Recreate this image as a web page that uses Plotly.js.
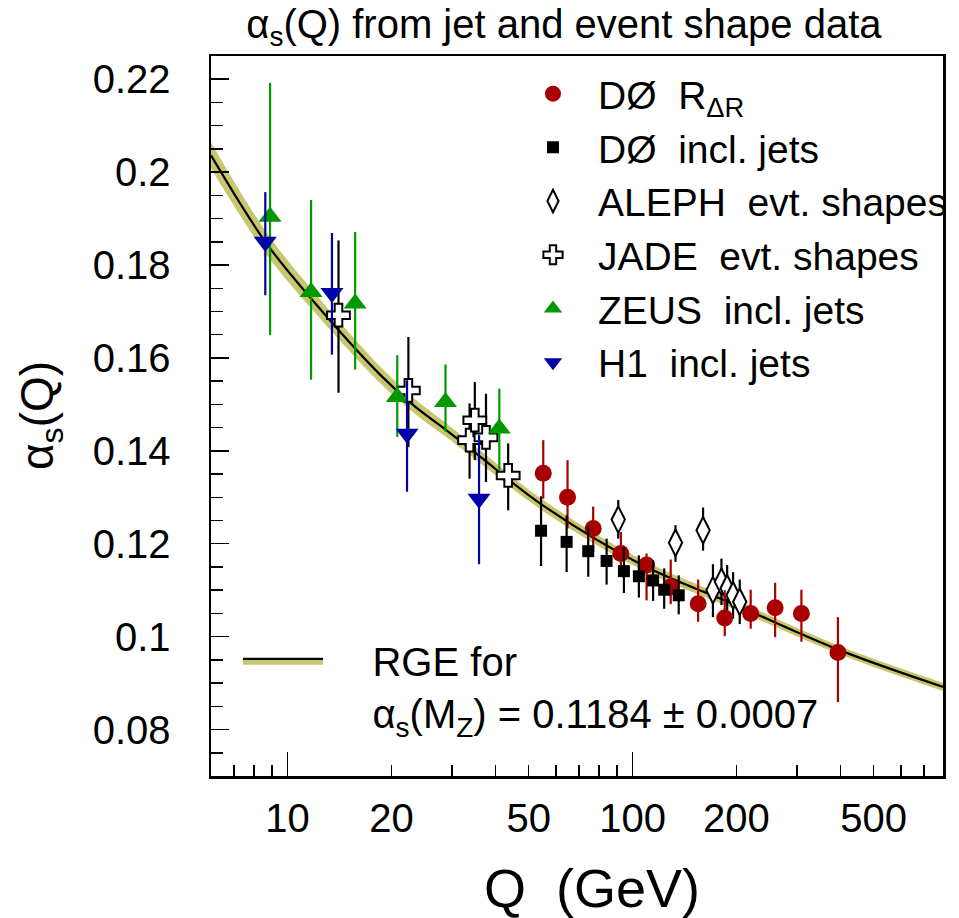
<!DOCTYPE html>
<html>
<head>
<meta charset="utf-8">
<script src="https://cdn.plot.ly/plotly-3.0.1.min.js"></script>
<style>
  html, body { margin: 0; padding: 0; background: #ffffff; }
  #chart { width: 959px; height: 918px; }
</style>
</head>
<body>
<div id="chart"></div>
<script>
// ---------- data ----------
// D0 R_deltaR (red circles)
const d0rQ  = [55.1, 64.8, 76.9, 92.5, 109.8, 129, 154.9, 185, 220, 259, 308.6, 393.8];
const d0rA  = [0.1352, 0.1300, 0.1233, 0.1179, 0.1154, 0.1107, 0.1071, 0.1040, 0.1050, 0.1062, 0.1050, 0.0966];
const d0rUp = [0.0071, 0.0080, 0.0047, 0.0046, 0.0025, 0.0059, 0.0052, 0.0060, 0.0051, 0.0054, 0.0051, 0.0076];
const d0rDn = [0.0055, 0.0067, 0.0051, 0.0036, 0.0076, 0.0037, 0.0039, 0.0039, 0.0033, 0.0063, 0.0061, 0.0107];

// D0 inclusive jets (black squares)
const d0jQ  = [54.3, 64.4, 74.4, 84.1, 94.4, 104.3, 114.7, 123.5, 136.1];
const d0jA  = [0.1228, 0.1204, 0.1184, 0.1163, 0.1141, 0.1130, 0.1121, 0.1101, 0.1089];
const d0jUp = [0.0074, 0.0057, 0.0054, 0.0048, 0.0052, 0.0045, 0.0043, 0.0046, 0.0043];
const d0jDn = [0.0076, 0.0065, 0.0055, 0.0051, 0.0047, 0.0046, 0.0044, 0.0041, 0.0041];

// ALEPH event shapes (open diamonds)
const alephQ  = [90.9, 133.2, 160.1, 171, 181, 188, 195.6, 204.5];
const alephA  = [0.1252, 0.1202, 0.1229, 0.1100, 0.1118, 0.1104, 0.1089, 0.1075];
const alephUp = [0.0042, 0.0038, 0.0049, 0.0056, 0.0050, 0.0050, 0.0050, 0.0048];
const alephDn = [0.0041, 0.0041, 0.0044, 0.0058, 0.0050, 0.0050, 0.0050, 0.0048];

// JADE event shapes (open crosses)
const jadeQ  = [14.05, 22.4, 33.7, 34.9, 37.6, 43.6];
const jadeA  = [0.1692, 0.1530, 0.1423, 0.1466, 0.1429, 0.1347];
const jadeUp = [0.0161, 0.0115, 0.0079, 0.0082, 0.0094, 0.0069];
const jadeDn = [0.0167, 0.0122, 0.0083, 0.0086, 0.0096, 0.0075];

// ZEUS inclusive jets (green up triangles)
const zeusQ  = [8.9, 11.7, 15.7, 20.8, 28.7, 41.1];
const zeusA  = [0.1904, 0.1742, 0.1717, 0.1516, 0.1505, 0.1448];
const zeusUp = [0.0288, 0.0198, 0.0154, 0.0090, 0.0081, 0.0086];
const zeusDn = [0.0255, 0.0189, 0.0142, 0.0086, 0.0064, 0.0090];

// H1 inclusive jets (blue down triangles)
const h1Q  = [8.62, 13.45, 22.2, 35.9];
const h1A  = [0.185, 0.174, 0.1437, 0.1297];
const h1Up = [0.0107, 0.0129, 0.0115, 0.0137];
const h1Dn = [0.0115, 0.0133, 0.0125, 0.0141];

// RGE curve (read along the drawn band) and band half-width
const rgeQ = [6.0, 8.62, 11.7, 18.6, 23.2, 28.9, 36.1, 53.9, 105, 205, 398, 800];
const rgeA = [0.2036, 0.1850, 0.1728, 0.1563, 0.1498, 0.1444, 0.1388, 0.1287, 0.1157, 0.1064, 0.0971, 0.0891];
const rgeE = [0.0028, 0.0024, 0.0021, 0.0018, 0.0016, 0.0015, 0.0014, 0.0012, 0.0011, 0.0010, 0.0009, 0.0009];

// axis ticks
const xLabelVals = [10, 20, 50, 100, 200, 500];
const xLabelText = ['10', '20', '50', '100', '200', '500'];
const xMinorVals = [7, 8, 9, 30, 40, 60, 70, 80, 90, 300, 400, 600, 700];
const xMajorVals = [10, 100];

const seriesNames = [
  'DØ\u00a0\u00a0R<sub>ΔR</sub>',
  'DØ\u00a0\u00a0incl. jets',
  'ALEPH\u00a0\u00a0evt. shapes',
  'JADE\u00a0\u00a0evt. shapes',
  'ZEUS\u00a0\u00a0incl. jets',
  'H1\u00a0\u00a0incl. jets'
];
const bandLabel = '\u00a0\u00a0\u00a0\u00a0RGE for<br>\u00a0\u00a0\u00a0\u00a0α<sub>s</sub>(M<sub>Z</sub>) = 0.1184 ± 0.0007';
const xTitle = 'Q\u00a0\u00a0(GeV)';
const yTitle = 'α<sub>s</sub>(Q)';

// ---------- styling ----------
const FONT = 'Liberation Sans, Arial, Helvetica, sans-serif';
const RED = '#a80000', GREEN = '#009a00', BLUE = '#0000a8', BAND = 'rgb(201,199,110)';

const lower = rgeA.map((v, i) => v - rgeE[i]);
const upper = rgeA.map((v, i) => v + rgeE[i]);

function errs(up, dn, color) {
  return { type: 'data', symmetric: false, array: up, arrayminus: dn,
           color: color, thickness: 2.2, width: 0 };
}

const traces = [
  // band: lower edge, centre line (fills lower->centre), upper edge (fills centre->upper)
  { x: rgeQ, y: lower, xaxis: 'x', yaxis: 'y', mode: 'lines',
    line: { width: 0, color: 'rgba(0,0,0,0)', shape: 'spline' },
    showlegend: false, hoverinfo: 'skip' },
  { x: rgeQ, y: rgeA, xaxis: 'x', yaxis: 'y', mode: 'lines', name: bandLabel,
    fill: 'tonexty', fillcolor: BAND,
    line: { width: 2.2, color: 'black', shape: 'spline' },
    legend: 'legend2', showlegend: true },
  { x: rgeQ, y: upper, xaxis: 'x', yaxis: 'y', mode: 'lines',
    fill: 'tonexty', fillcolor: BAND,
    line: { width: 0, color: 'rgba(0,0,0,0)', shape: 'spline' },
    showlegend: false, hoverinfo: 'skip' },

  { x: alephQ, y: alephA, xaxis: 'x2', yaxis: 'y', mode: 'markers', name: seriesNames[2],
    legendgroup: 'g3', legendrank: 3,
    marker: { symbol: 'diamond-tall', size: 19, color: 'white', line: { color: 'black', width: 2 } },
    error_y: errs(alephUp, alephDn, 'black') },
  { x: jadeQ, y: jadeA, xaxis: 'x2', yaxis: 'y', mode: 'markers', name: seriesNames[3],
    legendgroup: 'g4', legendrank: 4,
    marker: { symbol: 'cross', size: 19, color: 'white', line: { color: 'black', width: 2 } },
    error_y: errs(jadeUp, jadeDn, 'black') },
  { x: zeusQ, y: zeusA, xaxis: 'x2', yaxis: 'y', mode: 'markers', name: seriesNames[4],
    legendgroup: 'g5', legendrank: 5,
    marker: { symbol: 'triangle-up', size: 20, color: GREEN },
    error_y: errs(zeusUp, zeusDn, GREEN) },
  { x: h1Q, y: h1A, xaxis: 'x2', yaxis: 'y', mode: 'markers', name: seriesNames[5],
    legendgroup: 'g6', legendrank: 6,
    marker: { symbol: 'triangle-down', size: 20, color: BLUE },
    error_y: errs(h1Up, h1Dn, BLUE) },
  { x: d0rQ, y: d0rA, xaxis: 'x2', yaxis: 'y', mode: 'markers', name: seriesNames[0],
    legendgroup: 'g1', legendrank: 1,
    marker: { symbol: 'circle', size: 17, color: RED },
    error_y: errs(d0rUp, d0rDn, RED) },
  { x: d0jQ, y: d0jA, xaxis: 'x3', yaxis: 'y', mode: 'markers', name: seriesNames[1],
    legendgroup: 'g2', legendrank: 2,
    marker: { symbol: 'square', size: 12, color: 'black' },
    error_y: errs(d0jUp, d0jDn, 'black') }
];

const xr = [Math.log10(6), Math.log10(794)];

const layout = {
  width: 959, height: 918,
  margin: { l: 211, r: 16, t: 56, b: 142, autoexpand: false },
  paper_bgcolor: '#ffffff', plot_bgcolor: '#ffffff',
  font: { family: FONT, color: 'black', size: 37 },
  showlegend: true,
  title: {
    text: 'α<sub>s</sub>(Q) from jet and event shape data',
    font: { family: FONT, size: 40, color: 'black' },
    xref: 'container', x: 0.588, xanchor: 'center',
    yref: 'container', y: 1 - 24 / 918, yanchor: 'middle'
  },
  // main x axis: frame + short unlabelled ticks, carries the RGE band
  xaxis: {
    type: 'log', range: xr, showline: true, mirror: true,
    linecolor: 'black', linewidth: 2.5,
    ticks: 'inside', tickmode: 'array', tickvals: xMinorVals, ticklen: 11,
    tickwidth: 1.5, tickcolor: 'black', automargin: false,
    showticklabels: false, showgrid: false, zeroline: false
  },
  // labelled ticks
  xaxis2: {
    type: 'log', range: xr, overlaying: 'x', anchor: 'y', side: 'bottom',
    showline: false, ticks: 'inside', tickmode: 'array',
    tickvals: xLabelVals, ticktext: xLabelText,
    ticklen: 11, tickwidth: 1.5, tickcolor: 'black', automargin: false,
    showgrid: false, zeroline: false,
    tickfont: { family: FONT, size: 40, color: 'black' },
    ticklabelstandoff: 15
  },
  // decade ticks (long)
  xaxis3: {
    type: 'log', range: xr, overlaying: 'x', anchor: 'y', side: 'bottom',
    showline: false, ticks: 'inside', tickmode: 'array', tickvals: xMajorVals,
    ticklen: 24, tickwidth: 1.5, tickcolor: 'black', automargin: false,
    showticklabels: false, showgrid: false, zeroline: false
  },
  yaxis: {
    range: [0.07, 0.225], showline: true, mirror: true,
    linecolor: 'black', linewidth: 2.5,
    ticks: 'inside', tick0: 0, dtick: 0.02, ticklen: 18, tickwidth: 1.5, tickcolor: 'black',
    tickformat: '~g', automargin: false,
    minor: { dtick: 0.005, ticks: 'inside', ticklen: 12, tickwidth: 1.5, tickcolor: 'black', showgrid: false },
    showgrid: false, zeroline: false,
    tickfont: { family: FONT, size: 40, color: 'black' },
    ticklabelstandoff: 30
  },
  annotations: [
    { text: xTitle, xref: 'paper', yref: 'paper', x: 0.52, y: -0.155,
      xanchor: 'center', yanchor: 'middle', showarrow: false,
      font: { family: FONT, size: 54, color: 'black' } },
    { text: yTitle, xref: 'paper', yref: 'paper', x: -0.2336, y: 0.5, textangle: -90,
      xanchor: 'center', yanchor: 'middle', showarrow: false,
      font: { family: FONT, size: 46, color: 'black' } }
  ],
  legend: {
    x: 0.5297, y: 0.9327, xref: 'container', yref: 'container', xanchor: 'left', yanchor: 'top',
    bgcolor: 'rgba(0,0,0,0)', borderwidth: 0,
    font: { family: FONT, size: 39, color: 'black' },
    itemwidth: 80, tracegroupgap: 0, traceorder: 'grouped'
  },
  legend2: {
    x: 0.2482, y: 0.3155, xref: 'container', yref: 'container', xanchor: 'left', yanchor: 'top',
    bgcolor: 'rgba(0,0,0,0)', borderwidth: 0, valign: 'top',
    font: { family: FONT, size: 40, color: 'black' },
    itemwidth: 80
  }
};

Plotly.newPlot('chart', traces, layout, { staticPlot: true, displayModeBar: false });
</script>
</body>
</html>
